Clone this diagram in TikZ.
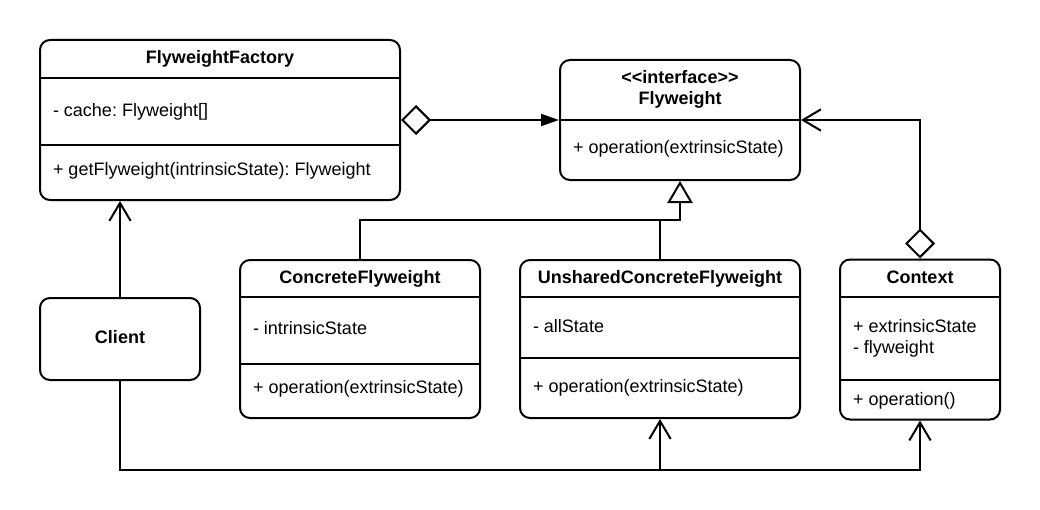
\documentclass[tikz,border=0pt]{standalone}
\usepackage{fontspec}
\setmainfont{Liberation Sans}
\usetikzlibrary{positioning,arrows.meta}
\newcommand\umlfont{\fontsize{13.5pt}{16pt}\selectfont}
\frenchspacing

\begin{document}
\begin{tikzpicture}[
    x=0.75pt, y=-0.75pt,
    line width=1.5pt,
    font=\umlfont,
    class/.style={
        draw,
        rounded corners=7.5pt,
        inner sep=0pt
    },
    classname/.style={font=\umlfont\bfseries, inner sep=0pt, anchor=mid, yshift=-2pt},
    member/.style={inner sep=0pt, anchor=mid west, yshift=-1.8pt},
    navarrow/.style={-{Straight Barb[length=13.5pt,width=16pt]}},
    aggregation/.style={{Diamond[open,length=22.5pt,width=22.5pt]}-{Triangle[length=13.5pt,width=9pt]}},
    contextlink/.style={{Diamond[open,length=22.5pt,width=22.5pt]}-{Straight Barb[length=13.5pt,width=16pt]}},
    realize/.style={-{Triangle[open,length=16.5pt,width=19pt]}}
]
\useasboundingbox (0,0) rectangle (1040,510);

% class boxes
\node[class, minimum width=270pt, minimum height=120pt] (factory) at (220,120) {};
\node[class, minimum width=180pt, minimum height=90pt] (flyweight) at (680,120) {};
\node[class, minimum width=180pt, minimum height=118.5pt] (concrete) at (360,339) {};
\node[class, minimum width=210pt, minimum height=118.5pt] (unshared) at (660,339) {};
\node[class, minimum width=120pt, minimum height=120pt] (context) at (920,339.5) {};
\node[class, minimum width=120pt, minimum height=61.5pt] (client) at (120,339) {};

% compartment lines
\draw (flyweight.west) -- (flyweight.east);
\foreach \cls/\y in {factory/78, factory/145, concrete/297, concrete/364,
                     unshared/297, unshared/358, context/297, context/380}
    \draw (\cls.west |- 0,\y) -- (\cls.east |- 0,\y);

% names and members
\node[classname] (factorytitle) at (220,57) {FlyweightFactory};
\node[member] (factorycache) at (52,111) {- cache: Flyweight[]};
\node[member] (factoryget) at (52,170) {+ getFlyweight(intrinsicState): Flyweight};

\node[classname] (flyweightstereo) at (680,77) {<\kern0pt<interface>\kern0pt>};
\node[classname] (flyweighttitle) at (680,98) {Flyweight};
\node[member] (flyweightop) at (572,148) {+ operation(extrinsicState)};

\node[classname] (concretetitle) at (360,277) {ConcreteFlyweight};
\node[member] (concretestate) at (252,329) {- intrinsicState};
\node[member] (concreteop) at (252,388) {+ operation(extrinsicState)};

\node[classname] (unsharedtitle) at (660,277) {UnsharedConcreteFlyweight};
\node[member] (unsharedstate) at (532,327) {- allState};
\node[member] (unsharedop) at (532,387) {+ operation(extrinsicState)};

\node[classname] (contexttitle) at (920,277) {Context};
\node[member] (contextstate) at (852,327) {+ extrinsicState};
\node[member] (contextref) at (852,348) {- flyweight};
\node[member] (contextop) at (852,400) {+ operation()};

\node[classname] (clienttitle) at (120,337) {Client};

% relations
\draw[aggregation] (factory.east) -- (flyweight.west);

\coordinate (genjoin) at (680,220);
\draw[realize] (concrete.north) |- (genjoin) -- (flyweight.south);
\draw (unshared.north) -- (unshared.north |- genjoin);

\draw[contextlink] (context.north) |- (flyweight.east);

\draw[navarrow] (client.north) -- (client.north |- factory.south);

\coordinate (bus) at (920,470);
\draw[navarrow] (client.south) |- (bus) -- (context.south);
\draw[navarrow] (unshared.south |- bus) -- (unshared.south);

\end{tikzpicture}
\end{document}
